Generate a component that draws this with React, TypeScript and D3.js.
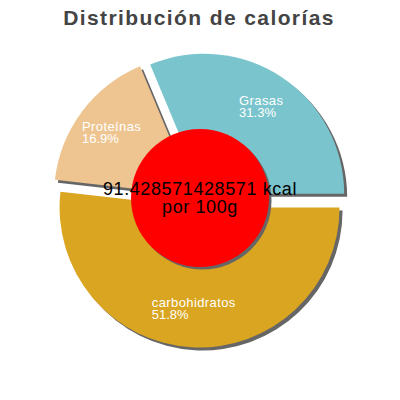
import React, { useEffect, useRef } from 'react';
import * as d3 from 'd3';

// chart values
const categories = ['carbohidratos', 'Proteínas', 'Grasas'];
const percents = [51.8, 16.9, 31.3];
const sliceColors = ['#daa520', '#eec591', '#7ac5cd'];
const centerLines = ['91.428571428571 kcal', 'por 100g'];
const title = 'Distribución de calorías';

const W = 400;
const H = 400;
const cx = 200;
const cy = 200;
const R = 140;
const explode = 7.5;
const labelR = 103;
const FONT = '"Liberation Sans", Arial, sans-serif';

const App: React.FC = () => {
  const labelRef = useRef<SVGGElement>(null);

  const pie = d3.pie<number>()
    .sort(null)
    .startAngle(Math.PI / 2)
    .endAngle(Math.PI / 2 + 2 * Math.PI);
  const arcs = pie(percents);
  const arc = d3.arc<d3.PieArcDatum<number>>().innerRadius(0).outerRadius(R);

  const offsetOf = (a: d3.PieArcDatum<number>, r: number) => {
    const mid = (a.startAngle + a.endAngle) / 2;
    return [Math.sin(mid) * r, -Math.cos(mid) * r];
  };

  // left-align each label block around the anchor using the first line width
  useEffect(() => {
    if (!labelRef.current) return;
    d3.select(labelRef.current).selectAll<SVGTextElement, unknown>('text').each(function () {
      const first = this.querySelector('tspan') as SVGTSpanElement;
      const w = first.getComputedTextLength();
      d3.select(this).selectAll('tspan').attr('x', -w / 2);
    });
  }, []);

  return (
    <svg width={W} height={H} style={{ position: 'absolute', left: 0, top: 0 }} fontFamily={FONT}>
      <text x={W / 2 - 1} y={25} textAnchor="middle" fontSize={21} fontWeight="bold" fill="#444" letterSpacing={1.4}>
        {title}
      </text>

      {/* shadows */}
      <g>
        {arcs.map((a, i) => {
          const [ox, oy] = offsetOf(a, explode);
          return (
            <path key={i} d={arc(a) || ''} transform={`translate(${cx + ox + 3},${cy + oy + 3})`} fill="#666" />
          );
        })}
      </g>

      {/* slices */}
      <g>
        {arcs.map((a, i) => {
          const [ox, oy] = offsetOf(a, explode);
          return (
            <path key={i} d={arc(a) || ''} transform={`translate(${cx + ox},${cy + oy})`} fill={sliceColors[i]} />
          );
        })}
      </g>

      <g ref={labelRef} fill="#fff" fontSize={13}>
        {arcs.map((a, i) => {
          const [lx, ly] = offsetOf(a, explode + labelR);
          return (
            <text key={i} transform={`translate(${cx + lx},${cy + ly - 3})`}>
              <tspan x={0} y={0} letterSpacing={0.4}>{categories[i]}</tspan>
              <tspan x={0} y={12}>{percents[i].toFixed(1)}%</tspan>
            </text>
          );
        })}
      </g>

      {/* center disc */}
      <circle cx={cx + 2.5} cy={cy + 0.5} r={69} fill="#666" />
      <circle cx={cx} cy={cy - 2} r={69} fill="#ff0000" />
      <text textAnchor="middle" fontSize={18} fill="#000" letterSpacing={0.6}>
        <tspan x={cx} y={194.5}>{centerLines[0]}</tspan>
        <tspan x={cx} y={212.5}>{centerLines[1]}</tspan>
      </text>
    </svg>
  );
};

export default App;
